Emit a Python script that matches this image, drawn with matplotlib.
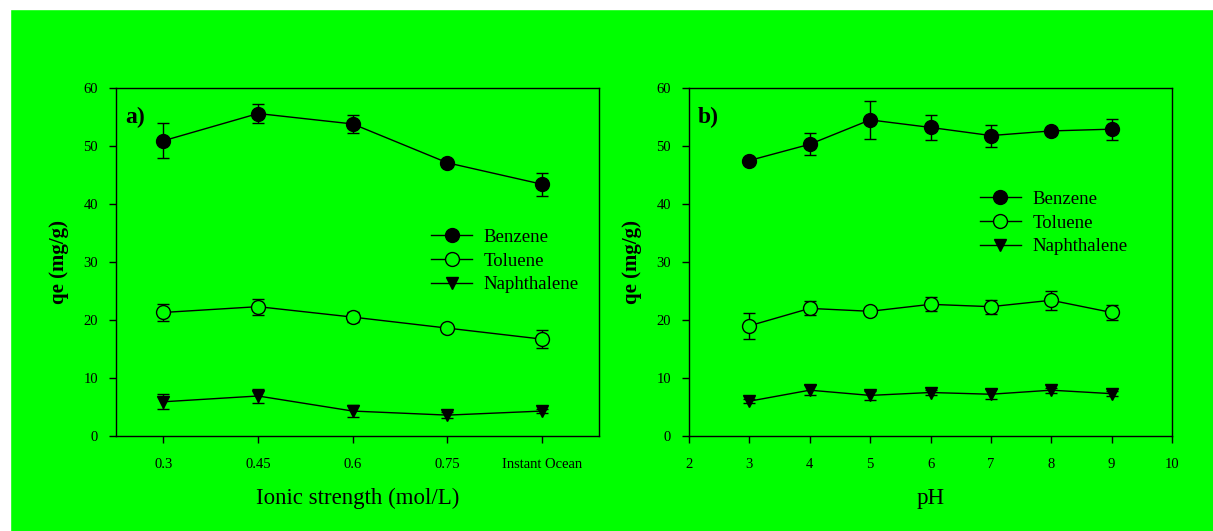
import matplotlib
matplotlib.use("Agg")
import matplotlib.pyplot as plt
from matplotlib.patches import Rectangle

# panel a: ionic strength
ionic_labels = ["0.3", "0.45", "0.6", "0.75", "Instant Ocean"]
benzene_a = [50.9, 55.6, 53.8, 47.1, 43.4]
benzene_a_err = [3.0, 1.6, 1.6, 0.4, 2.0]
toluene_a = [21.3, 22.3, 20.5, 18.6, 16.7]
toluene_a_err = [1.5, 1.4, 0.8, 0.5, 1.5]
naph_a = [5.9, 6.9, 4.3, 3.6, 4.3]
naph_a_err = [1.3, 1.2, 1.1, 0.5, 0.3]

# panel b: pH
ph_values = [3, 4, 5, 6, 7, 8, 9]
benzene_b = [47.5, 50.3, 54.5, 53.2, 51.8, 52.6, 52.9]
benzene_b_err = [0.4, 1.9, 3.3, 2.2, 1.9, 0.4, 1.8]
toluene_b = [19.0, 22.0, 21.5, 22.7, 22.3, 23.4, 21.3]
toluene_b_err = [2.2, 1.2, 0.4, 1.2, 1.2, 1.6, 1.3]
naph_b = [6.0, 7.9, 7.0, 7.5, 7.2, 7.9, 7.3]
naph_b_err = [0.3, 0.9, 0.8, 0.5, 0.9, 0.4, 0.4]

plt.rcParams['font.family'] = ['Liberation Serif', 'DejaVu Serif']

green = '#00ff00'
fig = plt.figure(figsize=(12.13, 5.31), dpi=100, facecolor=green)
# white margins at top and left of the original image
fig.patches.append(Rectangle((0, 0), 10 / 1213, 1, transform=fig.transFigure,
                             color='white', zorder=0))
fig.patches.append(Rectangle((0, 1 - 9 / 531), 1, 9 / 531, transform=fig.transFigure,
                             color='white', zorder=0))

ax_a = fig.add_axes([116 / 1213, 1 - 436 / 531, 483 / 1213, 348 / 531])
ax_b = fig.add_axes([689 / 1213, 1 - 436 / 531, 483 / 1213, 348 / 531])


def draw_series(ax, x, b, be, t, te, n, ne):
    style = dict(color='black', lw=1, capsize=4, elinewidth=1, capthick=1)
    h1 = ax.errorbar(x, b, yerr=be, marker='o', ms=10, mfc='black', mec='black',
                     **style)
    h2 = ax.errorbar(x, t, yerr=te, marker='o', ms=10, mfc=green, mec='black',
                     **style)
    h3 = ax.errorbar(x, n, yerr=ne, marker='v', ms=9, mfc='black', mec='black',
                     **style)
    # legend shows only line + marker, no error bars
    return [h1[0], h2[0], h3[0]]


xa = list(range(len(ionic_labels)))
ha = draw_series(ax_a, xa, benzene_a, benzene_a_err, toluene_a, toluene_a_err,
                 naph_a, naph_a_err)
hb = draw_series(ax_b, ph_values, benzene_b, benzene_b_err, toluene_b, toluene_b_err,
                 naph_b, naph_b_err)

ax_a.set_xlim(-0.5, 4.6)
ax_a.set_xticks(xa)
ax_a.set_xticklabels(ionic_labels)
ax_b.set_xlim(2, 10)
ax_b.set_xticks(range(2, 11))

for ax in (ax_a, ax_b):
    ax.set_facecolor(green)
    ax.set_ylim(0, 60)
    ax.set_yticks(range(0, 61, 10))
    ax.tick_params(direction='out', length=5, width=1, labelsize=10.5)
    ax.tick_params(axis='x', pad=11)
    ax.tick_params(axis='y', pad=8)
    for s in ax.spines.values():
        s.set_linewidth(1)
    ax.set_ylabel('qe (mg/g)', fontsize=15, fontweight='bold', labelpad=10)

ax_a.set_xlabel('Ionic strength (mol/L)', fontsize=16.5, labelpad=12)
ax_b.set_xlabel('pH', fontsize=16.5, labelpad=12)

ax_a.text(0.019, 0.945, 'a)', transform=ax_a.transAxes, fontsize=17,
          fontweight='bold', va='top')
ax_b.text(0.019, 0.945, 'b)', transform=ax_b.transAxes, fontsize=17,
          fontweight='bold', va='top')

names = ['Benzene', 'Toluene', 'Naphthalene']
leg_style = dict(loc='center left', frameon=False, fontsize=13.5, handlelength=2.2,
                 handletextpad=0.6, labelspacing=0.35, borderpad=0, borderaxespad=0)
ax_a.legend(ha, names, bbox_to_anchor=(0.652, 0.503), **leg_style)
ax_b.legend(hb, names, bbox_to_anchor=(0.602, 0.612), **leg_style)

fig.savefig('out.png', dpi=100, facecolor=green)
